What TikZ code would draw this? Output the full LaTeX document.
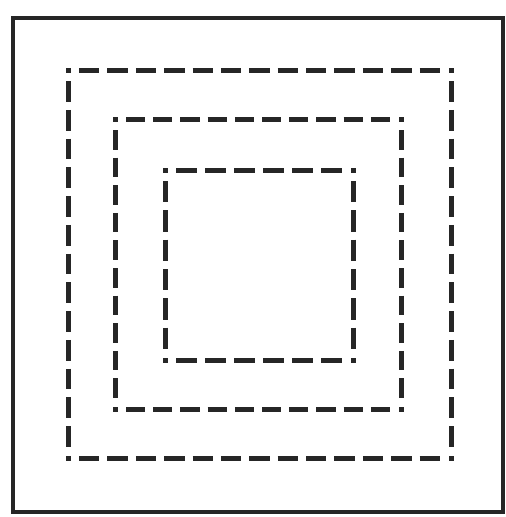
\documentclass[tikz,border=0pt]{standalone}
\begin{document}
\begin{tikzpicture}[x=1pt,y=-1pt,
  frame/.style={line width=4pt,draw=black!85},
  cornerdot/.style={fill=black!85}]
\useasboundingbox (0,0) rectangle (506,517);
\draw[frame] (13,18) rectangle (503,512);
% dashed squares: left, top, right, bottom
\foreach \l/\t/\r/\b in {68/70/451/458, 115/119/401/409, 165/170/353/360}{
  \fill[cornerdot] (\l-2.5,\t-2.5) rectangle (\l+2.5,\t+2.5);
  \fill[cornerdot] (\r-2.5,\t-2.5) rectangle (\r+2.5,\t+2.5);
  \fill[cornerdot] (\l-2.5,\b-2.5) rectangle (\l+2.5,\b+2.5);
  \fill[cornerdot] (\r-2.5,\b-2.5) rectangle (\r+2.5,\b+2.5);
  \pgfmathsetmacro{\hl}{\r-\l-22}
  \pgfmathsetmacro{\hn}{round((\hl+8)/28)}
  \pgfmathsetmacro{\hd}{(\hl+8)/\hn-8}
  \pgfmathsetmacro{\vl}{\b-\t-22}
  \pgfmathsetmacro{\vn}{round((\vl+8)/28)}
  \pgfmathsetmacro{\vd}{(\vl+8)/\vn-8}
  \draw[line width=5pt,draw=black!85,dash pattern=on \hd pt off 8pt] (\l+11,\t) -- (\r-11,\t);
  \draw[line width=5pt,draw=black!85,dash pattern=on \hd pt off 8pt] (\l+11,\b) -- (\r-11,\b);
  \draw[line width=5pt,draw=black!85,dash pattern=on \vd pt off 8pt] (\l,\t+11) -- (\l,\b-11);
  \draw[line width=5pt,draw=black!85,dash pattern=on \vd pt off 8pt] (\r,\t+11) -- (\r,\b-11);
}
\end{tikzpicture}
\end{document}
